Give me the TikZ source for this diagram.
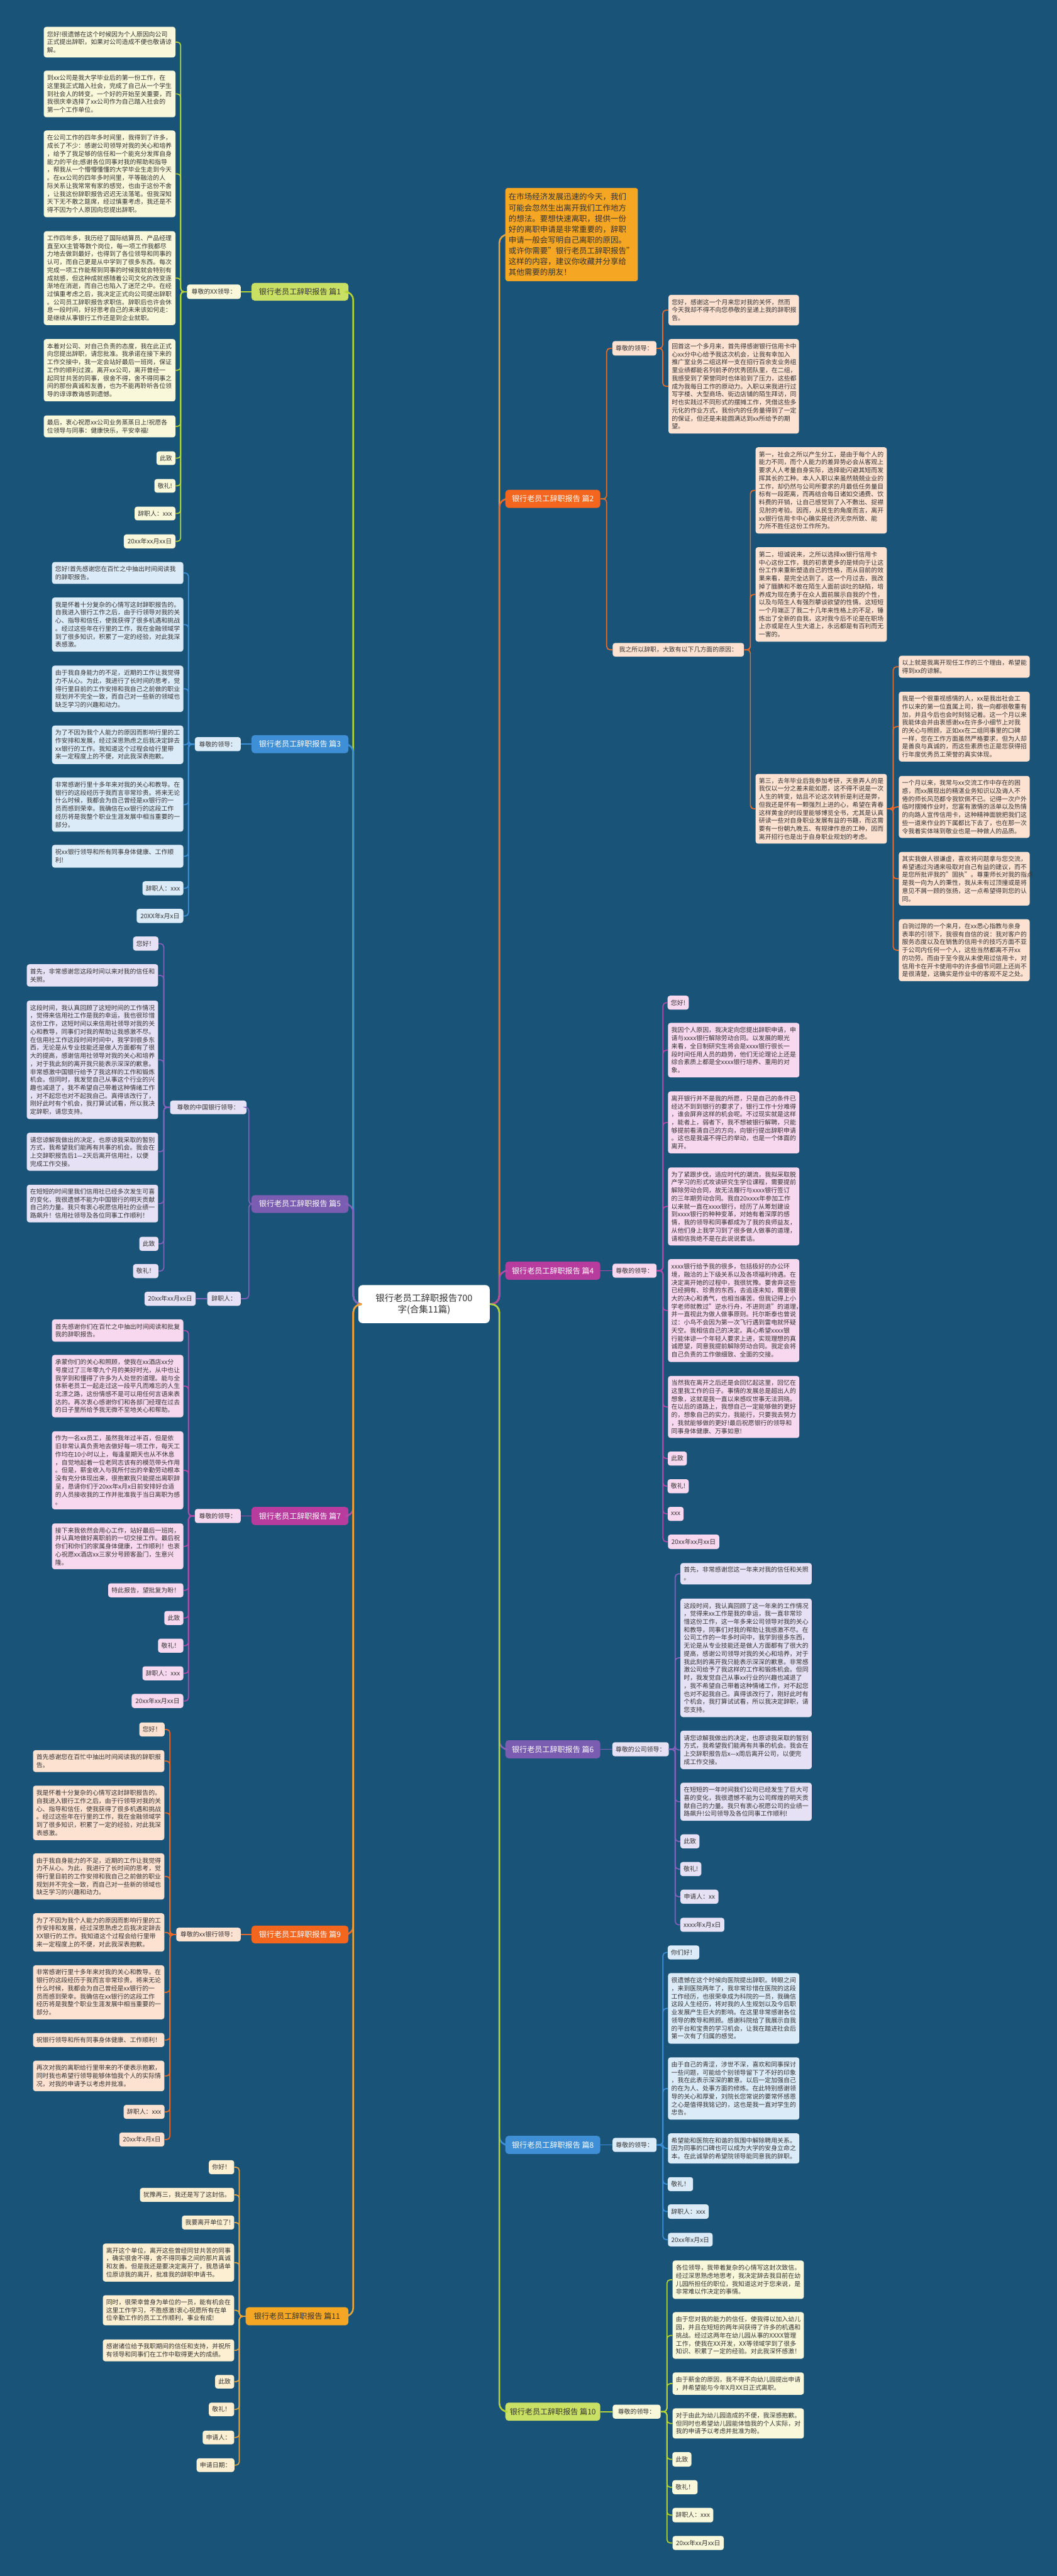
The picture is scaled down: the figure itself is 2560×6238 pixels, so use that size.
\documentclass[tikz,border=0pt]{standalone}
\usepackage{fontspec}
\setmainfont{Noto Sans CJK SC}
\definecolor{bg}{HTML}{195378}
\definecolor{txt}{HTML}{333333}
\definecolor{gLine}{HTML}{B5D334}\definecolor{gNode}{HTML}{C8E064}\definecolor{gFill}{HTML}{FAF8DA}
\definecolor{oLine}{HTML}{EA6A2A}\definecolor{oNode}{HTML}{F4651E}\definecolor{oFill}{HTML}{FDE2D2}
\definecolor{bLine}{HTML}{3D8FD8}\definecolor{bNode}{HTML}{3E8FD5}\definecolor{bFill}{HTML}{DCEBF8}
\definecolor{mLine}{HTML}{B24AA8}\definecolor{mNode}{HTML}{B83C9E}\definecolor{mFill}{HTML}{F8D8EE}
\definecolor{pLine}{HTML}{8262BA}\definecolor{pNode}{HTML}{7A5CB0}\definecolor{pFill}{HTML}{E6E1F4}
\definecolor{yLine}{HTML}{E9A53A}\definecolor{yNode}{HTML}{F5A623}\definecolor{yFill}{HTML}{FDEFD1}
\newcommand\tb[7][]{%
  \pgfmathsetmacro\tbW{(#5-#3)*0.5}%
  \pgfmathsetmacro\tbH{(#6-#4)*0.5}%
  \pgfmathsetmacro\tbT{(#5-#3)*0.5-8}%
  \node[#1,minimum width=\tbW pt,minimum height=\tbH pt,text width=\tbT pt] (#2) at ({(#3+#5)/2},{(#4+#6)/2}) {#7};}
\newcommand\sbx[7][]{%
  \pgfmathsetmacro\tbW{(#5-#3)*0.5}%
  \pgfmathsetmacro\tbH{(#6-#4)*0.5}%
  \node[#1,minimum width=\tbW pt,minimum height=\tbH pt] (#2) at ({(#3+#5)/2},{(#4+#6)/2}) {#7};}
\newcommand\kidsR[3]{\foreach \k in {#3} {\draw[kl,#2] (#1.east) -- ++(15,0) |- (\k.west);}}
\newcommand\kidsL[3]{\foreach \k in {#3} {\draw[kl,#2] (#1.west) -- ++(-15,0) |- (\k.east);}}
\begin{document}
\begin{tikzpicture}[x=0.5pt,y=-0.5pt,
  box/.style={rounded corners=3pt,inner xsep=4pt,inner ysep=0pt,align=left,text=txt,font=\fontsize{7.55pt}{9.7pt}\selectfont},
  gk/.style={box,fill=gFill},ok/.style={box,fill=oFill},bk/.style={box,fill=bFill},
  mk/.style={box,fill=mFill},pk/.style={box,fill=pFill},yk/.style={box,fill=yFill},
  br/.style={rounded corners=4pt,inner xsep=4pt,inner ysep=0pt,align=center,text=white,font=\fontsize{9.2pt}{11pt}\selectfont},
  kl/.style={line width=1.3pt,rounded corners=4pt},
  tr/.style={line width=2pt,rounded corners=10pt}]
\fill[bg] (0,0) rectangle (2560,6238);
\useasboundingbox (0,0) rectangle (2560,6238);

% ---------- center ----------
\sbx[box,fill=white,rounded corners=5pt,align=center,font=\fontsize{11pt}{14pt}\selectfont]{c}{868}{3112}{1186}{3204}{银行老员工辞职报告700\\字(合集11篇)}

% ---------- branch nodes ----------
\sbx[br,fill=gNode,text=txt]{b1}{609}{685}{844}{728}{银行老员工辞职报告 篇1}
\sbx[br,fill=bNode]{b3}{609}{1780}{844}{1824}{银行老员工辞职报告 篇3}
\sbx[br,fill=pNode]{b5}{609}{2894}{844}{2937}{银行老员工辞职报告 篇5}
\sbx[br,fill=mNode]{b7}{609}{3649}{844}{3693}{银行老员工辞职报告 篇7}
\sbx[br,fill=oNode]{b9}{609}{4663}{844}{4706}{银行老员工辞职报告 篇9}
\sbx[br,fill=yNode,text=txt]{b11}{595}{5587}{844}{5631}{银行老员工辞职报告 篇11}
\tb[box,fill=yNode,font=\fontsize{9.5pt}{13pt}\selectfont]{co}{1224}{455}{1545}{681}{在市场经济发展迅速的今天，我们\\可能会忽然生出离开我们工作地方\\的想法。要想快速离职，提供一份\\好的离职申请是非常重要的，辞职\\申请一般会写明自己离职的原因。\\或许你需要"银行老员工辞职报告"\\这样的内容，建议你收藏并分享给\\其他需要的朋友！}
\sbx[br,fill=oNode]{b2}{1224}{1186}{1454}{1230}{银行老员工辞职报告 篇2}
\sbx[br,fill=mNode]{b4}{1224}{3055}{1454}{3099}{银行老员工辞职报告 篇4}
\sbx[br,fill=pNode]{b6}{1224}{4214}{1454}{4258}{银行老员工辞职报告 篇6}
\sbx[br,fill=bNode]{b8}{1224}{5172}{1454}{5216}{银行老员工辞职报告 篇8}
\sbx[br,fill=gNode,text=txt]{b10}{1224}{5818}{1454}{5862}{银行老员工辞职报告 篇10}

% ---------- trunk connectors ----------
\draw[tr,yLine] (c.east) -- ++(23,0) |- (co.west);
\draw[tr,oLine] (c.east) -- ++(23,0) |- (b2.west);
\draw[tr,mLine] (c.east) -- ++(23,0) |- (b4.west);
\draw[tr,pLine] (c.east) -- ++(23,0) |- (b6.west);
\draw[tr,bLine] (c.east) -- ++(23,0) |- (b8.west);
\draw[tr,gLine] (c.east) -- ++(23,0) |- (b10.west);
\draw[tr,gLine] (c.west) -- ++(-12,0) |- (b1.east);
\draw[tr,bLine] (c.west) -- ++(-12,0) |- (b3.east);
\draw[tr,pLine] (c.west) -- ++(-12,0) |- (b5.east);
\draw[tr,mLine] (c.west) -- ++(-12,0) |- (b7.east);
\draw[tr,oLine] (c.west) -- ++(-12,0) |- (b9.east);
\draw[tr,yLine] (c.west) -- ++(-12,0) |- (b11.east);

% ================= 篇1 =================
\sbx[gk]{m1}{453}{689}{583}{724}{尊敬的XX领导：}
\tb[gk]{A1}{106}{65}{425}{139}{您好!很遗憾在这个时候因为个人原因向公司\\正式提出辞职，如果对公司造成不便也敬请谅\\解。}
\tb[gk]{A2}{106}{171}{425}{284}{到xx公司是我大学毕业后的第一份工作，在\\这里我正式踏入社会，完成了自己从一个学生\\到社会人的转变。一个好的开始至关重要，而\\我很庆幸选择了xx公司作为自己踏入社会的\\第一个工作单位。}
\tb[gk]{A3}{106}{316}{425}{526}{在公司工作的四年多时间里，我得到了许多，\\成长了不少：感谢公司领导对我的关心和培养\\，给予了我足够的信任和一个能充分发挥自身\\能力的平台;感谢各位同事对我的帮助和指导\\，帮我从一个懵懵懂懂的大学毕业生走到今天\\。在xx公司的四年多时间里，平等融洽的人\\际关系让我常常有家的感觉，也由于这份不舍\\，让我这份辞职报告迟迟无法落笔。但我深知\\天下无不散之筵席，经过慎重考虑，我还是不\\得不因为个人原因向您提出辞职。}
\tb[gk]{A4}{106}{560}{425}{787}{工作四年多，我历经了国际结算员、产品经理\\直至XX主管等数个岗位，每一项工作我都尽\\力地去做到最好，也得到了各位领导和同事的\\认可，而自己更是从中学到了很多东西。每次\\完成一项工作能帮到同事的时候我就会特别有\\成就感，但这种成就感随着公司文化的改变逐\\渐地在消逝，而自己也陷入了迷茫之中。在经\\过慎重考虑之后，我决定正式向公司提出辞职\\。公司员工辞职报告求职信。辞职后也许会休\\息一段时间，好好思考自己的未来该如何走：\\是继续从事银行工作还是到企业就职。}
\tb[gk]{A5}{106}{821}{425}{972}{本着对公司、对自己负责的态度，我在此正式\\向您提出辞职，请您批准。我承诺在接下来的\\工作交接中，我一定会站好最后一班岗，保证\\工作的顺利过渡。离开xx公司，离开曾经一\\起同甘共苦的同事，很舍不得，舍不得同事之\\间的那份真诚和友善，也为不能再聆听各位领\\导的谆谆教诲感到遗憾。}
\tb[gk]{A6}{106}{1006}{425}{1059}{最后，衷心祝愿xx公司业务蒸蒸日上!祝愿各\\位领导与同事：健康快乐，平安幸福!}
\sbx[gk]{A7}{379}{1093}{425}{1126}{此致}
\sbx[gk]{A8}{374}{1160}{425}{1193}{敬礼!}
\sbx[gk]{A9}{326}{1227}{425}{1260}{辞职人：xxx}
\sbx[gk]{A10}{300}{1294}{425}{1328}{20xx年xx月xx日}
\draw[kl,gLine] (b1.west) -- (m1.east);
\kidsL{m1}{gLine}{A1,A2,A3,A4,A5,A6,A7,A8,A9,A10}

% ================= 篇3 =================
\sbx[bk]{m3}{472}{1785}{583}{1819}{尊敬的领导：}
\tb[bk]{B1}{126}{1361}{444}{1414}{您好!首先感谢您在百忙之中抽出时间阅读我\\的辞职报告。}
\tb[bk]{B2}{126}{1447}{444}{1578}{我是怀着十分复杂的心情写这封辞职报告的。\\自我进入银行工作之后，由于行领导对我的关\\心、指导和信任，使我获得了很多机遇和挑战\\。经过这些年在行里的工作，我在金融领域学\\到了很多知识，积累了一定的经验，对此我深\\表感激。}
\tb[bk]{B3}{126}{1612}{444}{1724}{由于我自身能力的不足，近期的工作让我觉得\\力不从心。为此，我进行了长时间的思考，觉\\得行里目前的工作安排和我自己之前做的职业\\规划并不完全一致，而自己对一些新的领域也\\缺乏学习的兴趣和动力。}
\tb[bk]{B4}{126}{1757}{444}{1850}{为了不因为我个人能力的原因而影响行里的工\\作安排和发展，经过深思熟虑之后我决定辞去\\xx银行的工作。我知道这个过程会给行里带\\来一定程度上的不便，对此我深表抱歉。}
\tb[bk]{B5}{126}{1883}{444}{2014}{非常感谢行里十多年来对我的关心和教导。在\\银行的这段经历于我而言非常珍贵。将来无论\\什么时候，我都会为自己曾经是xx银行的一\\员而感到荣幸。我确信在xx银行的这段工作\\经历将是我整个职业生涯发展中相当重要的一\\部分。}
\tb[bk]{B6}{126}{2046}{444}{2101}{祝xx银行领导和所有同事身体健康、工作顺\\利!}
\sbx[bk]{B7}{345}{2134}{444}{2168}{辞职人：xxx}
\sbx[bk]{B8}{331}{2201}{444}{2235}{20XX年x月x日}
\draw[kl,bLine] (b3.west) -- (m3.east);
\kidsL{m3}{bLine}{B1,B2,B3,B4,B5,B6,B7,B8}

% ================= 篇5 =================
\sbx[pk]{m5a}{412}{2665}{597}{2698}{尊敬的中国银行领导：}
\sbx[pk]{m5b}{502}{3128}{583}{3162}{辞职人：}
\sbx[pk]{C1}{323}{2268}{383}{2302}{您好！}
\tb[pk]{C2}{65}{2335}{383}{2389}{首先，非常感谢您这段时间以来对我的信任和\\关照。}
\tb[pk]{C3}{65}{2423}{383}{2710}{这段时间，我认真回顾了这短时间的工作情况\\，觉得来信用社工作是我的幸运，我也很珍惜\\这份工作，这短时间以来信用社领导对我的关\\心和教导，同事们对我的帮助让我感激不尽。\\在信用社工作这段时间时间中，我学到很多东\\西，无论是从专业技能还是做人方面都有了很\\大的提高，感谢信用社领导对我的关心和培养\\，对于我此刻的离开我只能表示深深的歉意。\\非常感激中国银行给予了我这样的工作和锻炼\\机会。但同时，我发觉自己从事这个行业的兴\\趣也减退了，我不希望自己带着这种情绪工作\\，对不起您也对不起我自己。真得该改行了，\\刚好此时有个机会，我打算试试看，所以我决\\定辞职，请您支持。}
\tb[pk]{C4}{65}{2743}{383}{2835}{请您谅解我做出的决定，也原谅我采取的暂别\\方式，我希望我们能再有共事的机会。我会在\\上交辞职报告后1—2天后离开信用社，以便\\完成工作交接。}
\tb[pk]{C5}{65}{2869}{383}{2960}{在短短的时间里我们信用社已经多次发生可喜\\的变化，我很遗憾不能为中国银行的明天贡献\\自己的力量。我只有衷心祝愿信用社的业绩一\\路飙升！信用社领导及各位同事工作顺利！}
\sbx[pk]{C6}{338}{2995}{383}{3029}{此致}
\sbx[pk]{C7}{323}{3061}{383}{3095}{敬礼！}
\sbx[pk]{C8}{350}{3128}{474}{3162}{20xx年xx月xx日}
\draw[kl,pLine] (b5.west) -- ++(-6,0) |- (m5a.east);
\draw[kl,pLine] (b5.west) -- ++(-6,0) |- (m5b.east);
\kidsL{m5a}{pLine}{C1,C2,C3,C4,C5,C6,C7}
\draw[kl,pLine] (m5b.west) -- (C8.east);

% ================= 篇7 =================
\sbx[mk]{m7}{472}{3654}{583}{3688}{尊敬的领导：}
\tb[mk]{D1}{126}{3195}{444}{3249}{首先感谢你们在百忙之中抽出时间阅读和批复\\我的辞职报告。}
\tb[mk]{D2}{126}{3281}{444}{3432}{承蒙你们的关心和照顾，使我在xx酒店xx分\\号度过了三年零九个月的美好时光，从中也让\\我学到和懂得了许多为人处世的道理。能与全\\体新老员工一起走过这一段平凡而难忘的人生\\北漂之路，这份情感不是可以用任何言语来表\\达的。再次衷心感谢你们和各部门经理在过去\\的日子里所给予我无微不至地关心和帮助。}
\tb[mk]{D3}{126}{3466}{444}{3655}{作为一名xx员工，虽然我年过半百，但是依\\旧非常认真负责地去做好每一项工作，每天工\\作均在10小时以上，每逢星期天也从不休息\\，自觉地起着一位老同志该有的模范带头作用\\。但是，薪金收入与我所付出的辛勤劳动根本\\没有充分体现出来，很抱歉我只能提出离职辞\\呈，恳请你们于20xx年x月x日前安排好合适\\的人员接收我的工作并批准我于当日离职为感\\。}
\tb[mk]{D4}{126}{3689}{444}{3800}{接下来我依然会用心工作，站好最后一班岗，\\并认真地做好离职前的一切交接工作。最后祝\\你们和你们的家属身体健康，工作顺利！也衷\\心祝愿xx酒店xx三家分号顾客盈门，生意兴\\隆。}
\sbx[mk]{D5}{262}{3834}{444}{3868}{特此报告，望批复为盼！}
\sbx[mk]{D6}{398}{3901}{444}{3935}{此致}
\sbx[mk]{D7}{383}{3968}{444}{4002}{敬礼！}
\sbx[mk]{D8}{345}{4035}{444}{4069}{辞职人：xxx}
\sbx[mk]{D9}{319}{4102}{444}{4136}{20xx年xx月xx日}
\draw[kl,mLine] (b7.west) -- (m7.east);
\kidsL{m7}{mLine}{D1,D2,D3,D4,D5,D6,D7,D8,D9}

% ================= 篇9 =================
\sbx[ok]{m9}{427}{4668}{583}{4701}{尊敬的xx银行领导：}
\sbx[ok]{E1}{338}{4171}{398}{4205}{您好！}
\tb[ok]{E2}{80}{4238}{398}{4291}{首先感谢您在百忙中抽出时间阅读我的辞职报\\告。}
\tb[ok]{E3}{80}{4324}{398}{4456}{我是怀着十分复杂的心情写这封辞职报告的。\\自我进入银行工作之后，由于行领导对我的关\\心、指导和信任，使我获得了很多机遇和挑战\\。经过这些年在行里的工作，我在金融领域学\\到了很多知识，积累了一定的经验，对此我深\\表感激。}
\tb[ok]{E4}{80}{4488}{398}{4600}{由于我自身能力的不足，近期的工作让我觉得\\力不从心。为此，我进行了长时间的思考，觉\\得行里目前的工作安排和我自己之前做的职业\\规划并不完全一致，而自己对一些新的领域也\\缺乏学习的兴趣和动力。}
\tb[ok]{E5}{80}{4633}{398}{4726}{为了不因为我个人能力的原因而影响行里的工\\作安排和发展，经过深思熟虑之后我决定辞去\\XX银行的工作。我知道这个过程会给行里带\\来一定程度上的不便，对此我深表抱歉。}
\tb[ok]{E6}{80}{4759}{398}{4890}{非常感谢行里十多年来对我的关心和教导。在\\银行的这段经历于我而言非常珍贵。将来无论\\什么时候，我都会为自己曾经是xx银行的一\\员而感到荣幸。我确信在xx银行的这段工作\\经历将是我整个职业生涯发展中相当重要的一\\部分。}
\sbx[ok]{E7}{80}{4923}{398}{4957}{祝银行领导和所有同事身体健康、工作顺利！}
\tb[ok]{E8}{80}{4990}{398}{5064}{再次对我的离职给行里带来的不便表示抱歉，\\同时我也希望行领导能够体恤我个人的实际情\\况，对我的申请予以考虑并批准。}
\sbx[ok]{E9}{300}{5097}{398}{5131}{辞职人：xxx}
\sbx[ok]{E10}{289}{5164}{398}{5198}{20xx年x月x日}
\draw[kl,oLine] (b9.west) -- (m9.east);
\kidsL{m9}{oLine}{E1,E2,E3,E4,E5,E6,E7,E8,E9,E10}

% ================= 篇11 =================
\sbx[yk]{F1}{506}{5231}{567}{5265}{你好！}
\sbx[yk]{F2}{339}{5298}{567}{5332}{犹豫再三，我还是写了这封信。}
\sbx[yk]{F3}{441}{5365}{567}{5399}{我要离开单位了!}
\tb[yk]{F4}{249}{5433}{567}{5525}{离开这个单位，离开这些曾经同甘共苦的同事\\，确实很舍不得，舍不得同事之间的那片真诚\\和友善。但是我还是要决定离开了，我恳请单\\位原谅我的离开，批准我的辞职申请书。}
\tb[yk]{F5}{249}{5558}{567}{5631}{同时，很荣幸曾身为单位的一员，能有机会在\\这里工作学习，不胜感激!衷心祝愿所有在单\\位辛勤工作的员工工作顺利，事业有成!}
\tb[yk]{F6}{249}{5665}{567}{5718}{感谢诸位给予我职期间的信任和支持，并祝所\\有领导和同事们在工作中取得更大的成绩。}
\sbx[yk]{F7}{521}{5751}{567}{5784}{此致}
\sbx[yk]{F8}{506}{5818}{567}{5851}{敬礼！}
\sbx[yk]{F9}{491}{5886}{567}{5919}{申请人：}
\sbx[yk]{F10}{477}{5953}{567}{5986}{申请日期：}
\kidsL{b11}{yLine}{F1,F2,F3,F4,F5,F6,F7,F8,F9,F10}

% ================= 篇2 =================
\sbx[ok]{m2a}{1484}{826}{1589}{861}{尊敬的领导：}
\sbx[ok]{m2b}{1484}{1557}{1802}{1590}{我之所以辞职，大致有以下几方面的原因：}
\tb[ok]{G1}{1619}{714}{1935}{788}{您好，感谢这一个月来您对我的关怀，然而\\今天我却不得不向您恭敬的呈递上我的辞职报\\告。}
\tb[ok]{G2}{1619}{821}{1935}{1050}{回首这一个多月来，首先得感谢银行信用卡中\\心xx分中心给予我这次机会，让我有幸加入\\推广室业务二组这样一支在招行百余支业务组\\里业绩都能名列前矛的优秀团队里，在二组，\\我感受到了荣誉同时也体验到了压力，这些都\\成为我每日工作的原动力。入职以来我进行过\\写字楼、大型商场、街边店铺的陌生拜访，同\\时也实践过不同形式的摆摊工作，凭借这些多\\元化的作业方式，我份内的任务量得到了一定\\的保证，但还是未能圆满达到xx所给予的期\\望。}
\tb[ok]{H1}{1830}{1083}{2148}{1292}{第一，社会之所以产生分工，是由于每个人的\\能力不同，而个人能力的差异势必会从客观上\\要求人人考量自身实际，选择能闪避其短而发\\挥其长的工种。本人入职以来虽然兢兢业业的\\工作，却仍然与公司所要求的月最低任务量目\\标有一段距离，而再结合每日诸如交通费、饮\\料费的开销，让自己感觉到了入不敷出、捉襟\\见肘的考验。因而，从民生的角度而言，离开\\xx银行信用卡中心确实是经济无奈所致、能\\力所不胜任这份工作所为。}
\tb[ok]{H2}{1830}{1325}{2148}{1554}{第二，坦诚说来，之所以选择xx银行信用卡\\中心这份工作，我的初衷更多的是倾向于让这\\份工作来重新塑造自己的性格，而从目前的效\\果来看，是完全达到了。这一个月过去，我改\\掉了腼腆和不敢在陌生人面前谈吐的缺陷，培\\养成为现在勇于在众人面前展示自我的个性，\\以及与陌生人有强烈攀谈欲望的性情。这短短\\一个月端正了我二十几年来性格上的不足，锤\\炼出了全新的自我，这对我今后不论是在职场\\上亦或是在人生大道上，永远都是有百利而无\\一害的。}
\tb[ok]{H3}{1830}{1874}{2148}{2043}{第三，去年毕业后我参加考研，天意弄人的是\\我仅以一分之差未能如愿，这不得不说是一次\\人生的转变，姑且不论这次转折是利还是弊，\\但我还是怀有一颗强烈上进的心，希望在青春\\这样黄金的时段里能够博览全书，尤其是认真\\研读一些对自身职业发展有益的书籍，而这需\\要有一份朝九晚五、有规律作息的工种，因而\\离开招行也是出于自身职业规划的考虑。}
\tb[ok]{I1}{2177}{1588}{2494}{1641}{以上就是我离开现任工作的三个理由，希望能\\得到xx的谅解。}
\tb[ok]{I2}{2177}{1675}{2494}{1844}{我是一个很重视感情的人，xx是我出社会工\\作以来的第一位直属上司，我一向都很敬重有\\加，并且今后也会时刻铭记着。这一个月以来\\我能体会并由衷感谢xx在许多小细节上对我\\的关心与照顾，正如xx在二组同事里的口碑\\一样，您在工作方面虽然严格要求，但为人却\\是善良与真诚的，而这些素质也正是您获得招\\行年度优秀员工荣誉的真实体现。}
\tb[ok]{I3}{2177}{1879}{2494}{2029}{一个月以来，我常与xx交流工作中存在的困\\惑，而xx展现出的精湛业务知识以及诲人不\\倦的师长风范都令我钦佩不已。记得一次户外\\临时摆摊作业时，您富有激情的派单以及热情\\的向路人宣传信用卡，这种精神面貌把我们这\\些一道来作业的下属都比下去了，也在那一次\\令我着实体味到敬业也是一种做人的品质。}
\tb[ok]{I4}{2177}{2063}{2494}{2193}{其实我做人很谦虚，喜欢将问题拿与您交流，\\希望通过沟通来吸取对自己有益的建议，而不\\是您所批评我的"固执"。尊重师长对我的指点\\是我一向为人的秉性，我从未有过顶撞或是将\\意见不屑一顾的张扬，这一点希望得到您的认\\同。}
\tb[ok]{I5}{2177}{2226}{2494}{2376}{白驹过隙的一个来月，在xx悉心指教与亲身\\表率的引领下，我很有自信的说：我对客户的\\服务态度以及在销售的信用卡的技巧方面不亚\\于公司内任何一个人，这些当然都离不开xx\\的功劳。而由于至今我从未使用过信用卡，对\\信用卡在开卡使用中的许多细节问题上还尚不\\是很清楚，这确实是作业中的客观不足之处。}
\kidsR{b2}{oLine}{m2a,m2b}
\kidsR{m2a}{oLine}{G1,G2}
\kidsR{m2b}{oLine}{H1,H2,H3}
\kidsR{H3}{oLine}{I1,I2,I3,I4,I5}

% ================= 篇4 =================
\sbx[mk]{m4}{1484}{3060}{1590}{3094}{尊敬的领导：}
\sbx[mk]{J1}{1618}{2411}{1667}{2445}{您好!}
\tb[mk]{J2}{1618}{2477}{1936}{2609}{我因个人原因，我决定向您提出辞职申请，申\\请与xxxx银行解除劳动合同。以发展的眼光\\来看，全日制研究生将会是xxxx银行很长一\\段时间任用人员的趋势，他们无论理论上还是\\综合素质上都是全xxxx银行培养、重用的对\\象。}
\tb[mk]{J3}{1618}{2643}{1936}{2793}{离开银行并不是我的所愿，只是自己的条件已\\经达不到到银行的要求了，银行工作十分难得\\，谁会屏弃这样的机会呢。不过现实就是这样\\，能者上，弱者下，我不想被银行解聘，只能\\够提前看清自己的方向，向银行提出辞职申请\\。这也是我逼不得已的举动，也是一个体面的\\离开。}
\tb[mk]{J4}{1618}{2827}{1936}{3016}{为了紧跟步伐，适应时代的潮流，我拟采取脱\\产学习的形式攻读研究生学位课程，需要提前\\解除劳动合同，故无法履行与xxxx银行签订\\的三年期劳动合同。我自20xxxx年参加工作\\以来就一直在xxxx银行，经历了从筹划建设\\到xxxx银行的种种变革，对她有着深厚的感\\情，我的领导和同事都成为了我的良师益友，\\从他们身上我学习到了很多做人做事的道理，\\请相信我绝不是在此说说套话。}
\tb[mk]{J5}{1618}{3049}{1936}{3298}{xxxx银行给予我的很多，包括极好的办公环\\境，融洽的上下级关系以及各项福利待遇。在\\决定离开她的过程中，我很犹豫。要舍弃这些\\已经拥有、珍贵的东西，去追逐未知，需要很\\大的决心和勇气，也相当痛苦。但我记得上小\\学老师就教过"逆水行舟，不进则退"的道理，\\并一直视此为做人做事原则。托尔斯泰也曾说\\过：小鸟不会因为第一次飞行遇到雷电就怀疑\\天空。我相信自己的决定。真心希望xxxx银\\行能体谅一个年轻人要求上进，实现理想的真\\诚愿望，同意我提前解除劳动合同。我定会将\\自己负责的工作做细致、全面的交接。}
\tb[mk]{J6}{1618}{3332}{1936}{3482}{当然我在离开之后还是会回忆起这里，回忆在\\这里我工作的日子。事情的发展总是超出人的\\想象，这就是我一直以来感叹世事无法洞晓。\\在以后的道路上，我想自己一定能够做的更好\\的，想象自己的实力，我能行，只要我去努力\\，我就能够做的更好!最后祝愿银行的领导和\\同事身体健康、万事如意!}
\sbx[mk]{J7}{1618}{3515}{1663}{3549}{此致}
\sbx[mk]{J8}{1618}{3582}{1667}{3616}{敬礼!}
\sbx[mk]{J9}{1618}{3649}{1655}{3683}{xxx}
\sbx[mk]{J10}{1618}{3716}{1742}{3751}{20xx年xx月xx日}
\draw[kl,mLine] (b4.east) -- (m4.west);
\kidsR{m4}{mLine}{J1,J2,J3,J4,J5,J6,J7,J8,J9,J10}

% ================= 篇6 =================
\sbx[pk]{m6}{1484}{4219}{1619}{4253}{尊敬的公司领导：}
\tb[pk]{K1}{1648}{3785}{1966}{3837}{首先，非常感谢您这一年来对我的信任和关照\\。}
\tb[pk]{K2}{1648}{3871}{1966}{4158}{这段时间，我认真回顾了这一年来的工作情况\\，觉得来xx工作是我的幸运，我一直非常珍\\惜这份工作，这一年多来公司领导对我的关心\\和教导，同事们对我的帮助让我感激不尽。在\\公司工作的一年多时间中，我学到很多东西，\\无论是从专业技能还是做人方面都有了很大的\\提高，感谢公司领导对我的关心和培养，对于\\我此刻的离开我只能表示深深的歉意。非常感\\激公司给予了我这样的工作和锻炼机会。但同\\时，我发觉自己从事xx行业的兴趣也减退了\\，我不希望自己带着这种情绪工作，对不起您\\也对不起我自己。真得该改行了，刚好此时有\\个机会，我打算试试看，所以我决定辞职，请\\您支持。}
\tb[pk]{K3}{1648}{4191}{1966}{4284}{请您谅解我做出的决定，也原谅我采取的暂别\\方式，我希望我们能再有共事的机会。我会在\\上交辞职报告后x—x周后离开公司，以便完\\成工作交接。}
\tb[pk]{K4}{1648}{4317}{1966}{4409}{在短短的一年时间我们公司已经发生了巨大可\\喜的变化，我很遗憾不能为公司辉煌的明天贡\\献自己的力量。我只有衷心祝愿公司的业绩一\\路飙升!公司领导及各位同事工作顺利!}
\sbx[pk]{K5}{1648}{4442}{1694}{4476}{此致}
\sbx[pk]{K6}{1648}{4509}{1698}{4543}{敬礼!}
\sbx[pk]{K7}{1648}{4576}{1740}{4610}{申请人：xx}
\sbx[pk]{K8}{1648}{4644}{1754}{4678}{xxxx年x月x日}
\draw[kl,pLine] (b6.east) -- (m6.west);
\kidsR{m6}{pLine}{K1,K2,K3,K4,K5,K6,K7,K8}

% ================= 篇8 =================
\sbx[bk]{m8}{1484}{5177}{1590}{5211}{尊敬的领导：}
\sbx[bk]{L1}{1618}{4711}{1693}{4745}{你们好！}
\tb[bk]{L2}{1618}{4778}{1936}{4949}{很遗憾在这个时候向医院提出辞职。转眼之间\\，来到医院两年了，我非常珍惜在医院的这段\\工作经历，也很荣幸成为科院的一员，我确信\\这段人生经历，将对我的人生规划以及今后职\\业发展产生巨大的影响。在这里非常感谢各位\\领导的教导和照顾。感谢科院给了我展示自我\\的平台和宝贵的学习机会，让我在踏进社会后\\第一次有了归属的感觉。}
\tb[bk]{L3}{1618}{4982}{1936}{5133}{由于自己的青涩，涉世不深，喜欢和同事探讨\\一些问题，可能给个别领导留下了不好的印象\\，我在此表示深深的歉意。以后一定加强自己\\的在为人、处事方面的修炼。在此特别感谢领\\导的关心和厚爱，刘院长您常说的要常怀感恩\\之心是值得我铭记的，这也是我一直对学生的\\忠告。}
\tb[bk]{L4}{1618}{5166}{1936}{5239}{希望能和医院在和谐的氛围中解除聘用关系。\\因为同事的口碑也可以成为大学的安身立命之\\本。在此诚挚的希望院领导能同意我的辞职。}
\sbx[bk]{L5}{1618}{5272}{1678}{5306}{敬礼！}
\sbx[bk]{L6}{1618}{5338}{1716}{5373}{辞职人：xxx}
\sbx[bk]{L7}{1618}{5407}{1726}{5440}{20xx年x月x日}
\draw[kl,bLine] (b8.east) -- (m8.west);
\kidsR{m8}{bLine}{L1,L2,L3,L4,L5,L6,L7}

% ================= 篇10 =================
\sbx[gk]{m10}{1484}{5823}{1600}{5857}{尊敬的领导：}
\tb[gk]{M1}{1629}{5474}{1947}{5567}{各位领导，我带着复杂的心情写这封次致信。\\经过深思熟虑地思考，我决定辞去我目前在幼\\儿园所担任的职位，我知道这对于您来说，是\\非常难以作决定的事情。}
\tb[gk]{M2}{1629}{5599}{1947}{5712}{由于您对我的能力的信任，使我得以加入幼儿\\园，并且在短短的两年间获得了许多的机遇和\\挑战。经过这两年在幼儿园从事的XXXX管理\\工作，使我在XX开发，XX等领域学到了很多\\知识、积累了一定的经验。对此我深怀感激！}
\tb[gk]{M3}{1629}{5745}{1947}{5799}{由于薪金的原因，我不得不向幼儿园提出申请\\，并希望能与今年X月XX日正式离职。}
\tb[gk]{M4}{1629}{5832}{1947}{5905}{对于由此为幼儿园造成的不便，我深感抱歉。\\但同时也希望幼儿园能体恤我的个人实际，对\\我的申请予以考虑并批准为盼。}
\sbx[gk]{M5}{1629}{5938}{1674}{5973}{此致}
\sbx[gk]{M6}{1629}{6006}{1689}{6040}{敬礼！}
\sbx[gk]{M7}{1629}{6073}{1727}{6108}{辞职人：xxx}
\sbx[gk]{M8}{1629}{6141}{1753}{6175}{20xx年xx月xx日}
\draw[kl,gLine] (b10.east) -- (m10.west);
\kidsR{m10}{gLine}{M1,M2,M3,M4,M5,M6,M7,M8}
\end{tikzpicture}
\end{document}
